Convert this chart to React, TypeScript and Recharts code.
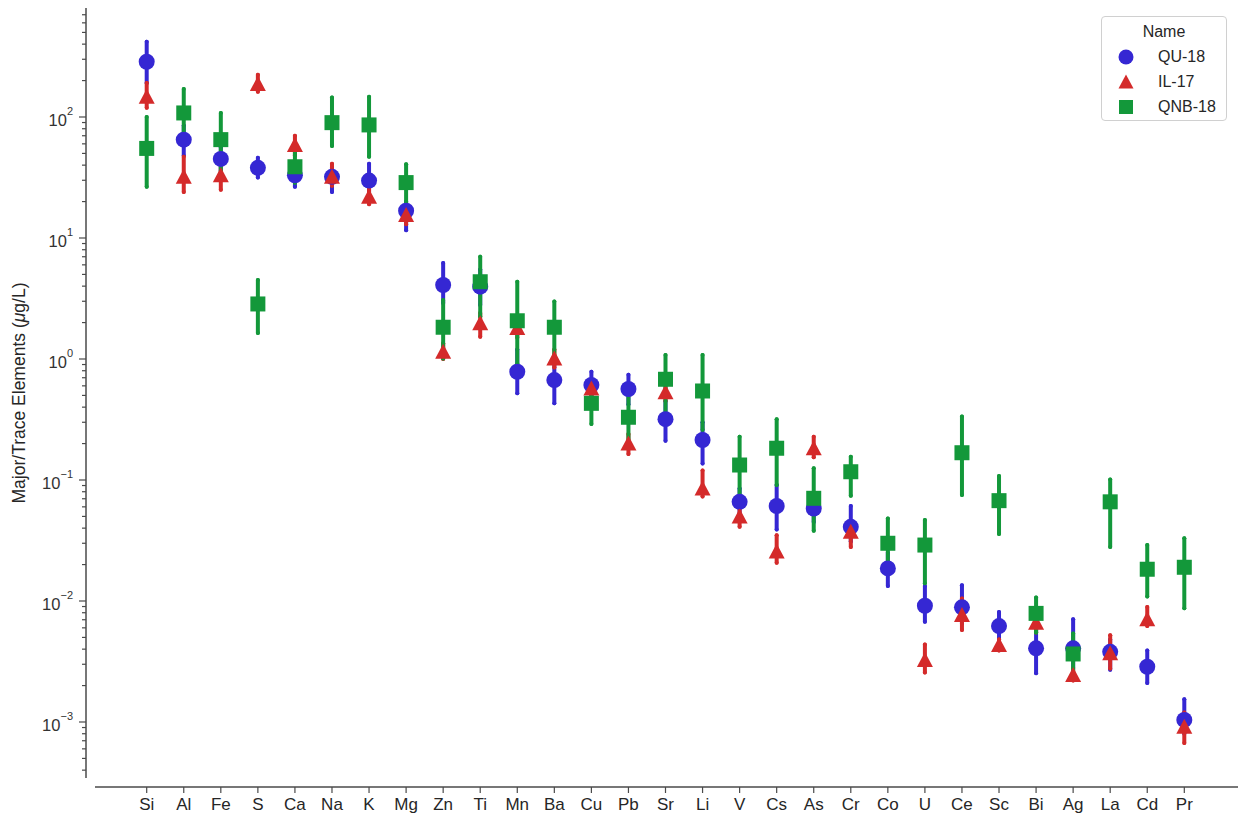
import React from "react";
import { ScatterChart, Scatter, XAxis, YAxis, ErrorBar, Legend } from "recharts";

const elements = [
  "Si", "Al", "Fe", "S", "Ca", "Na", "K", "Mg", "Zn", "Ti", "Mn", "Ba", "Cu", "Pb", "Sr",
  "Li", "V", "Cs", "As", "Cr", "Co", "U", "Ce", "Sc", "Bi", "Ag", "La", "Cd", "Pr",
];

// QU-18: point estimate + lower/upper of the interval
const qu18Mean = [286, 65, 45, 38, 33, 32, 29.8, 16.8, 4.09, 3.96, 0.785, 0.67, 0.61, 0.565, 0.318,
  0.214, 0.066, 0.061, 0.058, 0.041, 0.0186, 0.00914, 0.00887, 0.0062, 0.00406, 0.00406, 0.0038, 0.00286, 0.00104];
const qu18Low = [191, 48, 36, 31.6, 26.5, 24, 24, 11.6, 2.9, 2.8, 0.52, 0.43, 0.47, 0.42, 0.211,
  0.137, 0.052, 0.039, 0.045, 0.031, 0.0133, 0.00675, 0.0065, 0.0048, 0.00253, 0.0028, 0.0027, 0.0021, 0.0008];
const qu18High = [419, 85, 56, 46, 40, 38, 41, 20, 6.2, 5.5, 1.2, 0.95, 0.785, 0.74, 0.45,
  0.3, 0.085, 0.091, 0.075, 0.061, 0.025, 0.0133, 0.0135, 0.0081, 0.0058, 0.00706, 0.0048, 0.0039, 0.00154];

// IL-17 (no Co value)
const il17Mean = [147, 32, 33, 187, 58.7, 32, 21.9, 15.5, 1.15, 1.97, 1.8, 1.01, 0.57, 0.2, 0.53,
  0.085, 0.05, 0.0256, 0.183, 0.0374, null, 0.00325, 0.00766, 0.00432, 0.0066, 0.00244, 0.0037, 0.00706, 0.000914];
const il17Low = [119, 24, 25, 162, 48, 27, 19, 13, 1.0, 1.53, 1.5, 0.85, 0.5, 0.164, 0.45,
  0.073, 0.041, 0.0207, 0.154, 0.028, null, 0.00256, 0.00575, 0.0039, 0.0055, 0.0022, 0.00277, 0.0062, 0.00067];
const il17High = [191, 47, 42, 223, 70, 41, 26, 18, 1.35, 2.4, 2.1, 1.2, 0.66, 0.24, 0.62,
  0.12, 0.058, 0.035, 0.228, 0.045, null, 0.00438, 0.0105, 0.0048, 0.0075, 0.0028, 0.0052, 0.0089, 0.0012];

// QNB-18
const qnb18Mean = [55, 108, 65, 2.85, 38.8, 89.8, 86, 28.7, 1.83, 4.35, 2.07, 1.83, 0.43, 0.33, 0.68,
  0.544, 0.133, 0.183, 0.0706, 0.117, 0.03, 0.029, 0.168, 0.0675, 0.0079, 0.00365, 0.066, 0.0183, 0.019];
const qnb18Low = [26.5, 60, 34, 1.64, 28.6, 57.5, 47, 18, 1.01, 2.24, 0.92, 1.0, 0.29, 0.2, 0.33,
  0.26, 0.07, 0.091, 0.038, 0.074, 0.02, 0.014, 0.075, 0.0358, 0.0055, 0.0025, 0.028, 0.0109, 0.0087];
const qnb18High = [100, 170, 108, 4.5, 52, 145, 147, 40.6, 3.08, 7.0, 4.35, 2.98, 0.6, 0.5, 1.08,
  1.08, 0.228, 0.317, 0.125, 0.156, 0.048, 0.0468, 0.334, 0.108, 0.0107, 0.0054, 0.101, 0.029, 0.033];

const majorExponents = [-3, -2, -1, 0, 1, 2];
const minorSteps = [2, 3, 4, 5, 6, 7, 8, 9];

const X_DOMAIN = [-1.638, 29.449];
// plot box runs a little below the visible y spine (axis offset look)
const Y_DOMAIN = [Math.pow(10, -3.5372), Math.pow(10, 2.9008)];
const Y_VISIBLE_MIN = Math.pow(10, -3.46);

const TEXT = "#262626";
const AXIS = "#4a4a4a";
const FONT = "'Liberation Sans', Arial, sans-serif";

type Kind = "circle" | "triangle" | "square";

const series: { name: string; color: string; kind: Kind; mean: (number | null)[]; low: (number | null)[]; high: (number | null)[] }[] = [
  { name: "QU-18", color: "#3527d3", kind: "circle", mean: qu18Mean, low: qu18Low, high: qu18High },
  { name: "IL-17", color: "#d42a2a", kind: "triangle", mean: il17Mean, low: il17Low, high: il17High },
  { name: "QNB-18", color: "#13983a", kind: "square", mean: qnb18Mean, low: qnb18Low, high: qnb18High },
];

function toRows(mean: (number | null)[], low: (number | null)[], high: (number | null)[]) {
  const rows: { x: number; y: number; err: [number, number] }[] = [];
  mean.forEach((m, i) => {
    if (m == null) return;
    rows.push({ x: i, y: m, err: [m - (low[i] as number), (high[i] as number) - m] });
  });
  return rows;
}

const yTicks: number[] = [];
for (let e = -4; e <= 2; e++) {
  if (majorExponents.includes(e)) yTicks.push(Math.pow(10, e));
  minorSteps.forEach((k) => {
    const v = k * Math.pow(10, e);
    if (v > Y_VISIBLE_MIN && v < Y_DOMAIN[1]) yTicks.push(v);
  });
}
yTicks.sort((a, b) => a - b);

function Marker({ cx, cy, kind, color, size = 16 }: { cx?: number; cy?: number; kind: Kind; color: string; size?: number }) {
  if (cx == null || cy == null || isNaN(cx) || isNaN(cy)) return null;
  const h = size / 2;
  if (kind === "circle") return <circle cx={cx} cy={cy} r={h} fill={color} />;
  if (kind === "square") return <rect x={cx - h + 0.5} y={cy - h + 0.5} width={size - 1} height={size - 1} fill={color} />;
  return <polygon points={`${cx},${cy - h} ${cx - h},${cy + h - 1} ${cx + h},${cy + h - 1}`} fill={color} />;
}

function YTick(props: any) {
  const { x, y, payload } = props;
  const lg = Math.log10(payload.value);
  const e = Math.round(lg);
  const major = Math.abs(lg - e) < 1e-6;
  return (
    <g>
      <line x1={x} x2={x - (major ? 7 : 4)} y1={y} y2={y} stroke={AXIS} strokeWidth={1.2} />
      {major && (
        <text x={x - 13} y={y + 9.5} textAnchor="end" fontSize={16.5} fill="#333" fontFamily={FONT}>
          10
          <tspan dy={-11.5} fontSize={11}>{e < 0 ? `\u2212${-e}` : `${e}`}</tspan>
        </text>
      )}
    </g>
  );
}

function YAxisDecor(props: any) {
  const vb = props.viewBox || {};
  const ax = vb.x + vb.width;
  const bottom = vb.y + vb.height - 9;
  const cy = (vb.y + bottom) / 2;
  return (
    <g>
      <line x1={ax} x2={ax} y1={vb.y} y2={bottom} stroke={AXIS} strokeWidth={1.5} />
      <text
        x={19}
        y={cy}
        transform={`rotate(-90, 19, ${cy})`}
        textAnchor="middle"
        dominantBaseline="central"
        fontSize={17.5}
        fill={TEXT}
        fontFamily={FONT}
      >
        Major/Trace Elements (<tspan fontStyle="italic">μ</tspan>g/L)
      </text>
    </g>
  );
}

function XAxisDecor(props: any) {
  const vb = props.viewBox || {};
  return <line x1={vb.x + 9} x2={vb.x + vb.width} y1={vb.y} y2={vb.y} stroke={AXIS} strokeWidth={1.5} />;
}

function LegendBox() {
  return (
    <div
      style={{
        position: "relative",
        width: 126,
        height: 105,
        border: "1px solid #d0d0d0",
        borderRadius: 4,
        background: "rgba(255,255,255,0.85)",
        fontFamily: FONT,
        color: TEXT,
        boxSizing: "border-box",
      }}
    >
      <div style={{ position: "absolute", top: 6, left: 0, width: "100%", textAlign: "center", fontSize: 16 }}>Name</div>
      {series.map((s, i) => (
        <div key={s.name} style={{ position: "absolute", top: 30 + i * 25, left: 0, height: 20, width: "100%" }}>
          <svg width={20} height={20} style={{ position: "absolute", left: 14, top: 0 }}>
            <Marker cx={10} cy={10} kind={s.kind} color={s.color} size={15} />
          </svg>
          <span style={{ position: "absolute", left: 56, top: 1, fontSize: 16, lineHeight: "18px" }}>{s.name}</span>
        </div>
      ))}
    </div>
  );
}

export default function App() {
  return (
    <div style={{ position: "absolute", left: 0, top: 0, width: 1238, height: 818, background: "#fff" }}>
      <ScatterChart width={1238} height={818} margin={{ top: 8, right: 0, bottom: 0, left: 0 }}>
        <XAxis
          type="number"
          dataKey="x"
          domain={X_DOMAIN}
          allowDataOverflow
          ticks={elements.map((_, i) => i)}
          interval={0}
          tickFormatter={(v: number) => elements[v] ?? ""}
          height={31}
          axisLine={false}
          tickLine={{ stroke: AXIS, strokeWidth: 1.2 }}
          tickSize={6}
          tickMargin={5}
          tick={{ fontSize: 17, fill: TEXT, fontFamily: FONT }}
          label={<XAxisDecor />}
        />
        <YAxis
          type="number"
          dataKey="y"
          scale="log"
          domain={Y_DOMAIN}
          allowDataOverflow
          ticks={yTicks}
          interval={0}
          width={86}
          axisLine={false}
          tickLine={false}
          tickSize={0}
          tickMargin={0}
          tick={<YTick />}
          label={<YAxisDecor />}
        />
        <Legend
          layout="vertical"
          align="center"
          verticalAlign="middle"
          content={() => <LegendBox />}
          wrapperStyle={{ position: "absolute", top: 16, left: 1101, width: 126, height: 105 }}
        />
        {series.map((s) => (
          <Scatter
            key={s.name}
            name={s.name}
            data={toRows(s.mean, s.low, s.high)}
            fill={s.color}
            isAnimationActive={false}
            shape={(p: any) => <Marker cx={p.cx} cy={p.cy} kind={s.kind} color={s.color} />}
          >
            <ErrorBar
              dataKey="err"
              direction="y"
              width={0}
              stroke={s.color}
              strokeWidth={4}
              strokeLinecap="round"
              isAnimationActive={false}
            />
          </Scatter>
        ))}
      </ScatterChart>
    </div>
  );
}
